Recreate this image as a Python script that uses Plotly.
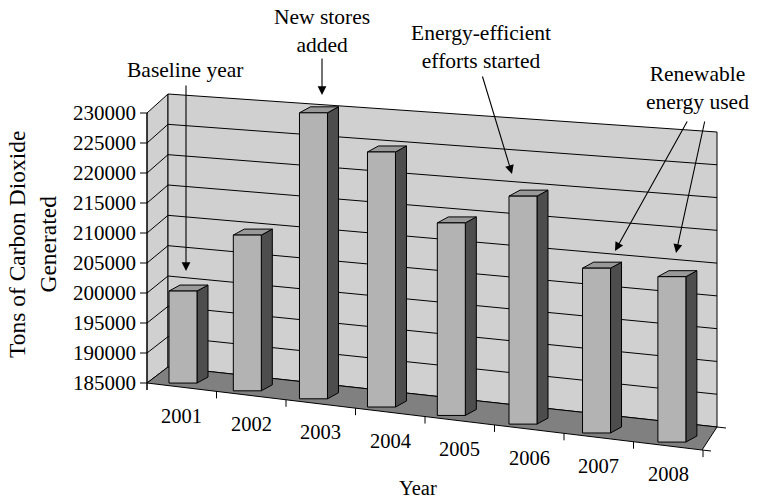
import plotly.graph_objects as go

# ---- data -------------------------------------------------------------
years = ["2001", "2002", "2003", "2004", "2005", "2006", "2007", "2008"]
co2_tons = [200000, 209800, 229500, 223800, 213650, 218200, 208500, 208100]
value_ticks = [185000, 190000, 195000, 200000, 205000, 210000, 215000,
               220000, 225000, 230000]
v_min, v_max = 185000, 230000

# ---- pseudo-3D projection (page pixel coordinates) --------------------
FONT = "Liberation Serif, Times New Roman, serif"
FL = (147.0, 383.0)          # front-left corner of the floor
BL = (168.0, 367.0)          # back-left corner of the floor
BR = (717.0, 427.0)          # back-right corner of the floor
FR = (702.0, 450.0)          # front-right corner of the floor
FRONT_H = 270.0              # left axis height (value span)
BACK_H_L, BACK_H_R = 273.0, 295.0
CAT_STEP = 69.5
EDGE_SLOPE = (FR[1] - FL[1]) / (FR[0] - FL[0])

WALL = "#d0d0d0"
FLOOR = "#808080"
BAR_FRONT = "#b3b3b3"
BAR_SIDE = "#4d4d4d"
BAR_TOP = "#999999"
FACE_W, DEPTH_DX, DEPTH_DY = 28.0, 11.0, -6.0


def frac(v):
    return (v - v_min) / (v_max - v_min)


def front_axis_y(v):
    return FL[1] - frac(v) * FRONT_H


def back_wall_y(v, t):
    """y on the back wall for value v at horizontal fraction t (0 left .. 1 right)."""
    bottom = BL[1] + t * (BR[1] - BL[1])
    h = BACK_H_L + t * (BACK_H_R - BACK_H_L)
    return bottom - frac(v) * h


def edge_y(x):
    return FL[1] + EDGE_SLOPE * (x - FL[0])


def bar_geometry(i, v):
    left = 169.0 + 63.4 * i + 0.92 * i * i
    bottom = edge_y(left) - 2.6
    height = frac(v) * (276.0 + 6.6 * i)
    return left, bottom, bottom - height


fig = go.Figure()


def poly(xs, ys, fill, width=1.0):
    fig.add_trace(go.Scatter(
        x=list(xs) + [xs[0]], y=list(ys) + [ys[0]], mode="lines",
        fill="toself", fillcolor=fill,
        line=dict(color="black", width=width),
        hoverinfo="skip", showlegend=False))


def seg(x0, y0, x1, y1, width=1.0):
    fig.add_trace(go.Scatter(
        x=[x0, x1], y=[y0, y1], mode="lines",
        line=dict(color="black", width=width),
        hoverinfo="skip", showlegend=False))


# walls and floor
BT = back_wall_y(v_max, 0.0), back_wall_y(v_max, 1.0)
poly([FL[0], FL[0], BL[0], BL[0]],
     [FL[1], front_axis_y(v_max), BT[0], BL[1]], WALL)
poly([BL[0], BR[0], BR[0], BL[0]], [BT[0], BT[1], BR[1], BL[1]], WALL)
poly([FL[0], BL[0], BR[0], FR[0]], [FL[1], BL[1], BR[1], FR[1]], FLOOR)

# gridlines on the walls
for v in value_ticks[1:-1]:
    seg(FL[0], front_axis_y(v), BL[0], back_wall_y(v, 0.0))
    seg(BL[0], back_wall_y(v, 0.0), BR[0], back_wall_y(v, 1.0))

# value axis with tick marks and labels
seg(FL[0], front_axis_y(v_max), FL[0], FL[1] + 7)
for v in value_ticks:
    y = front_axis_y(v)
    seg(FL[0] - 7, y, FL[0], y)
    fig.add_annotation(x=138, y=y, text=f"{v}", showarrow=False,
                       xanchor="right", yanchor="middle",
                       font=dict(family=FONT, size=21, color="black"))

# category axis: ticks along the front edge of the floor
for k in range(len(years) + 1):
    x = FL[0] + CAT_STEP * k
    seg(x, edge_y(x), x, edge_y(x) + 7)
seg(BR[0], BR[1], BR[0] + 9, BR[1] + 1)
seg(FR[0], FR[1], FR[0] + 9, FR[1] + 1)
for k, label in enumerate(years):
    x = FL[0] + CAT_STEP * (k + 0.5)
    fig.add_annotation(x=x, y=edge_y(x) + 28.5, text=label, showarrow=False,
                       xanchor="center", yanchor="middle",
                       font=dict(family=FONT, size=20.5, color="black"))

# bars
for i, v in enumerate(co2_tons):
    L, B, T = bar_geometry(i, v)
    R = L + FACE_W
    poly([R, R + DEPTH_DX, R + DEPTH_DX, R],
         [B, B + DEPTH_DY, T + DEPTH_DY, T], BAR_SIDE)
    poly([L, R, R + DEPTH_DX, L + DEPTH_DX],
         [T, T, T + DEPTH_DY, T + DEPTH_DY], BAR_TOP)
    poly([L, R, R, L], [B, B, T, T], BAR_FRONT)

# axis titles
fig.add_annotation(x=418, y=488, text="Year", showarrow=False,
                   font=dict(family=FONT, size=20.5, color="black"))
fig.add_annotation(x=32, y=245, text="Tons of Carbon Dioxide<br>Generated",
                   showarrow=False, textangle=-90,
                   font=dict(family=FONT, size=23.5, color="black"))

# call-outs
callouts = [
    ("Baseline year", 185, 70),
    ("New stores<br>added", 322, 31),
    ("Energy-efficient<br>efforts started", 481, 47),
    ("Renewable<br>energy used", 697, 88),
]
for text, x, y in callouts:
    fig.add_annotation(x=x, y=y, text=text, showarrow=False,
                       xanchor="center", yanchor="middle",
                       font=dict(family=FONT, size=21.5, color="black"))

arrows = [
    ((186, 84), (186, 271)),
    ((322, 57), (322, 95)),
    ((482, 75), (512, 174)),
    ((688, 120), (615, 251)),
    ((705, 120), (676, 253)),
]
for (x0, y0), (x1, y1) in arrows:
    fig.add_annotation(x=x1, y=y1, ax=x0, ay=y0, xref="x", yref="y",
                       axref="x", ayref="y", text="", showarrow=True,
                       arrowhead=2, arrowsize=1.6, arrowwidth=1.1,
                       arrowcolor="black")

fig.update_layout(
    width=757, height=499, margin=dict(l=0, r=0, t=0, b=0),
    paper_bgcolor="white", plot_bgcolor="white",
    xaxis=dict(range=[0, 757], visible=False, fixedrange=True),
    yaxis=dict(range=[499, 0], visible=False, fixedrange=True),
    showlegend=False,
)

fig.write_html("out.html")
